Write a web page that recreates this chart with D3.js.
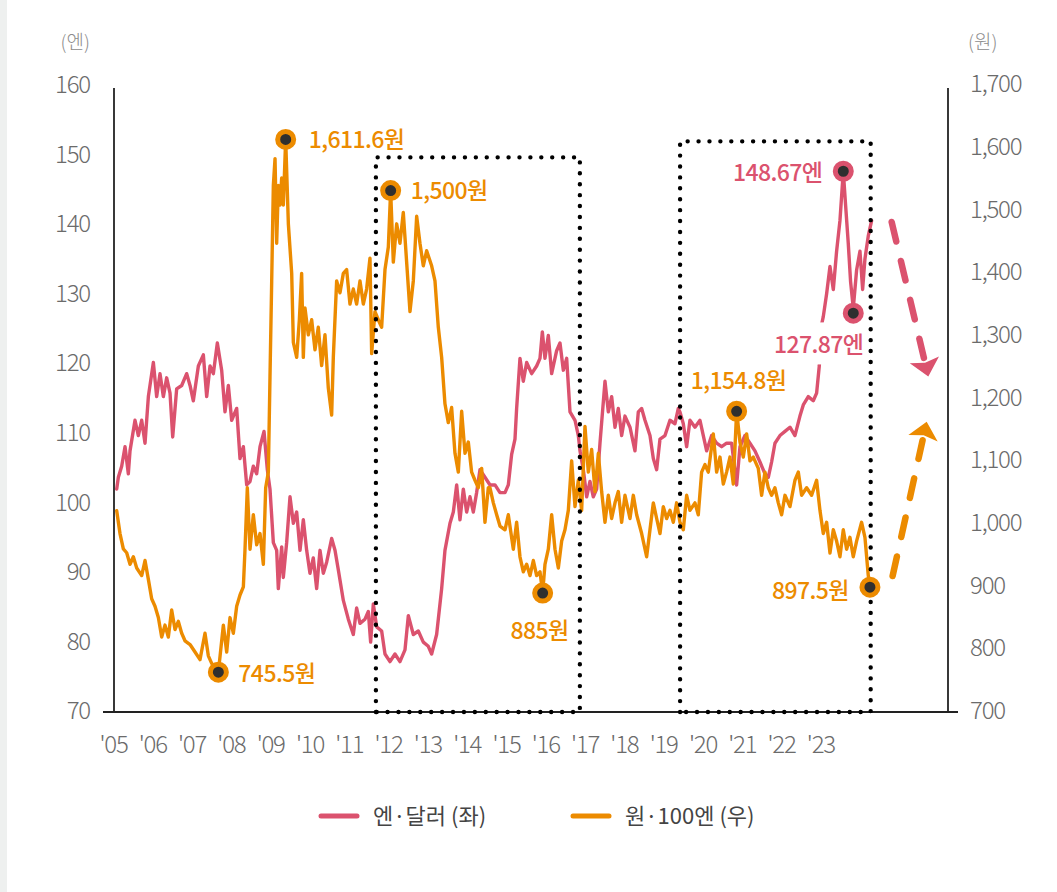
<!DOCTYPE html>
<html>
<head>
<meta charset="utf-8">
<script src="https://cdn.jsdelivr.net/npm/d3@7"></script>
<style>
  html, body { margin: 0; padding: 0; background: #fff; }
  svg { display: block; font-family: "Noto Sans CJK KR", "Noto Sans", sans-serif; }
</style>
</head>
<body>
<svg id="chart" width="1057" height="892"></svg>
<script>
// ---------------- DATA ----------------
const yearTicks = [2005,2006,2007,2008,2009,2010,2011,2012,2013,2014,2015,2016,2017,2018,2019,2020,2021,2022,2023];
const yearLabels = ["'05","'06","'07","'08","'09","'10","'11","'12","'13","'14","'15","'16","'17","'18","'19","'20","'21","'22","'23"];
const leftTicks = [70,80,90,100,110,120,130,140,150,160];
const rightTicks = [700,800,900,1000,1100,1200,1300,1400,1500,1600,1700];

// 엔·달러 (좌): decimal year, yen per dollar
const yenDates = [2005.094,2005.136,2005.221,2005.306,2005.39,2005.433,2005.56,2005.645,2005.73,2005.815,2005.9,2006.027,2006.111,2006.196,2006.281,2006.366,2006.451,2006.519,2006.62,2006.748,2006.875,2006.96,2007.044,2007.172,2007.299,2007.384,2007.469,2007.553,2007.655,2007.765,2007.85,2007.935,2008.02,2008.147,2008.232,2008.317,2008.402,2008.486,2008.571,2008.656,2008.741,2008.843,2008.927,2008.995,2009.08,2009.165,2009.207,2009.292,2009.334,2009.419,2009.504,2009.589,2009.674,2009.759,
2009.843,2009.928,2010.012,2010.097,2010.182,2010.267,2010.352,2010.437,2010.564,2010.649,2010.733,2010.861,2010.988,2011.115,2011.2,2011.285,2011.412,2011.497,2011.556,2011.624,2011.709,2011.836,2011.921,2012.048,2012.175,2012.302,2012.43,2012.515,2012.642,2012.769,2012.896,2013.023,2013.108,2013.235,2013.363,2013.447,2013.575,2013.66,2013.745,2013.829,2013.914,2013.999,2014.084,2014.169,2014.253,2014.338,2014.465,2014.593,
2014.72,2014.847,2014.975,2015.059,2015.144,2015.229,2015.271,2015.356,2015.441,2015.526,2015.653,2015.78,2015.865,2015.925,2015.992,2016.077,2016.162,2016.289,2016.374,2016.459,2016.544,2016.629,2016.756,2016.841,2016.883,2016.968,2017.053,2017.137,2017.222,2017.307,2017.392,2017.519,2017.604,2017.689,2017.774,2017.858,2017.943,2018.028,2018.155,2018.282,2018.367,2018.452,2018.537,2018.664,2018.749,2018.834,2018.919,2019.046,2019.173,2019.3,2019.385,
2019.427,2019.512,2019.597,2019.681,2019.809,2019.936,2020.021,2020.106,2020.233,2020.36,2020.487,2020.614,2020.742,2020.869,2020.954,2021.081,2021.208,2021.335,2021.463,2021.59,2021.675,2021.759,2021.844,2021.971,2022.099,2022.226,2022.353,2022.48,2022.565,2022.692,2022.819,2022.904,2022.972,2023.032,2023.074,2023.159,2023.244,2023.329,2023.413,2023.498,2023.583,2023.642,2023.71,2023.769,2023.837,2023.922,2024.007,2024.075,2024.134,2024.219,2024.304];
const yenValues = [101.9,103.6,105.2,108,104.1,107.4,111.8,109.6,111.8,108.5,115.2,120.1,115.2,118.5,115.2,117.9,115.7,109.4,116.3,116.8,118.5,116.8,114.6,119.6,121.2,115.2,119.6,118.5,122.9,119.0,113,116.8,111.8,113.5,106.3,108,102.5,103,105.2,104.1,108,110.2,104.7,101.9,94.2,93.1,87.6,93.6,89.2,94.2,100.8,97,98.6,93.1,
97.5,93.1,89.8,92,87.6,93.1,89.8,91.4,94.8,93.1,90.3,85.9,83.2,81,84.8,82.6,83.2,84.3,79.9,85.4,82.1,81.5,78.2,77.1,78.2,77.1,78.8,83.7,81,81.5,79.9,79.3,78.2,81,87.6,93.1,97,98.6,102.5,97.5,101.9,98.6,100.8,98.6,101.4,104.7,103.6,102.5,
102.5,101.4,101.4,102.5,106.9,109.1,113.5,120.7,117.4,120.1,118.5,119.6,120.7,124.5,120.7,124,118.5,121.8,122.9,119,120.7,113,111.8,109.6,107.4,104.7,100.8,103,100.8,101.9,108.5,117.4,113,115.2,110.8,113.5,109.6,112.4,110.8,107.4,113,113.5,111.8,109.6,106.3,104.7,109.1,109.6,111.8,111.3,113.5,
113,111.3,108,111.8,110.8,111.8,109.6,107.4,109.6,108.5,108,108.5,108.5,102.5,108,109.6,108.5,107.4,105.8,104.1,103.6,105.8,108.5,109.6,110.2,110.8,109.6,112.4,114,115.2,114.6,115.7,119.6,125.6,126.7,130,133.9,130.6,136.1,140.5,147.6,142.7,137.2,131.7,127.9,133.4,136.1,130.6,135,138.3,140.5];

// 원·100엔 (우): decimal year, won per 100 yen
const wonDates = [2005.094,2005.178,2005.263,2005.348,2005.433,2005.518,2005.603,2005.73,2005.815,2005.9,2005.984,2006.069,2006.154,2006.239,2006.323,2006.408,2006.493,2006.578,2006.663,2006.748,2006.832,2006.96,2007.087,2007.214,2007.341,2007.426,2007.511,2007.596,2007.681,2007.808,2007.893,2007.977,2008.062,2008.147,2008.232,2008.317,2008.359,2008.418,2008.486,2008.571,2008.656,2008.741,2008.826,2008.885,2008.953,2008.995,2009.038,2009.08,2009.123,2009.165,2009.207,2009.25,2009.292,2009.334,2009.394,2009.462,2009.547,2009.589,2009.674,2009.742,
2009.8,2009.843,2009.885,2009.97,2010.055,2010.14,2010.224,2010.309,2010.394,2010.479,2010.564,2010.606,2010.691,2010.776,2010.861,2010.945,2011.03,2011.115,2011.2,2011.285,2011.37,2011.454,2011.539,2011.582,2011.666,2011.751,2011.836,2011.921,2012.006,2012.065,2012.133,2012.218,2012.302,2012.387,2012.472,2012.557,2012.642,2012.727,2012.811,2012.896,2012.981,2013.108,2013.193,2013.278,2013.363,2013.447,2013.532,2013.617,2013.702,2013.787,2013.872,2013.957,2014.041,2014.126,2014.211,2014.296,2014.381,2014.465,2014.55,
2014.593,2014.678,2014.763,2014.847,2014.975,2015.059,2015.187,2015.271,2015.356,2015.441,2015.526,2015.611,2015.696,2015.78,2015.865,2015.933,2015.992,2016.077,2016.162,2016.247,2016.332,2016.417,2016.501,2016.586,2016.671,2016.756,2016.841,2016.925,2017.01,2017.095,2017.18,2017.265,2017.35,2017.434,2017.519,2017.604,2017.689,2017.774,2017.858,2017.943,2018.028,2018.155,2018.24,2018.325,2018.452,2018.579,2018.664,2018.749,2018.834,2018.919,2019.003,2019.088,2019.173,2019.258,2019.342,2019.427,
2019.512,2019.597,2019.681,2019.809,2019.893,2019.978,2020.063,2020.148,2020.275,2020.36,2020.445,2020.53,2020.614,2020.699,2020.784,2020.869,2020.954,2021.039,2021.124,2021.208,2021.293,2021.42,2021.505,2021.59,2021.675,2021.759,2021.844,2021.929,2022.014,2022.099,2022.226,2022.353,2022.438,2022.523,2022.65,2022.777,2022.904,2022.989,2023.074,2023.159,2023.244,2023.329,2023.413,2023.498,2023.583,2023.668,2023.752,2023.837,2023.922,2024.049,2024.134,2024.219,2024.261];
const wonValues = [1019.5,983,958.5,952.4,934,946,928,916,940,910,879,867,849,818,837,818,861,830,843,824,812,806,794,782,824,788,776,770,762,837,794,849,824,867,885,898,958,1056,958,1013,965,983,934,1056,1081,1233,1385,1538,1581,1446,1538,1507,1550,1507,1611.6,1477,1398,1288,1264,1324,
1398,1264,1343,1300,1324,1276,1312,1251,1300,1215,1172,1264,1386,1367,1398,1404,1349,1373,1349,1386,1349,1373,1422,1270,1337,1324,1312,1404,1440,1530,1416,1477,1446,1495,1416,1337,1386,1489,1446,1410,1434,1410,1386,1312,1264,1190,1160,1184,1111,1081,1178,1111,1129,1081,1068,1056,1087,1001,1056,
1056,1032,1013,995,989,1013,958,1001,946,922,934,916,940,916,922,888,934,958,1013,958,928,971,989,1020,1099,1026,1068,1020,1154,1081,1117,1050,1111,1050,1001,1044,1007,1032,1050,1001,1044,1007,1044,1013,983,946,989,1032,1007,983,1026,1007,1020,1001,1032,1001,
989,1044,1020,1032,1013,1081,1093,1081,1142,1081,1105,1062,1081,1105,1062,1178,1129,1105,1142,1099,1105,1087,1044,1081,1056,1044,1056,1032,1013,1044,1026,1068,1081,1044,1056,1044,1068,1020,983,1001,952,989,971,946,989,958,977,946,971,1001,977,916,897.5];

// annotations: axis, date, value, label
const noteAxis   = ["won","won","won","won","won","won","yen","yen"];
const noteDates  = [2009.394,2007.681,2012.065,2015.933,2020.869,2024.261,2023.583,2023.837];
const noteValues = [1611.6,762,1530,888,1178,897.5,147.6,127.2];
const noteLabels = ["1,611.6원","745.5원","1,500원","885원","1,154.8원","897.5원","148.67엔","127.87엔"];
const noteKnockout = [false,false,false,false,false,false,false,true];

// highlighted periods (dotted boxes): start, end, top (left-axis units)
const boxStart = [2011.69, 2019.43];
const boxEnd   = [2016.88, 2024.28];
const boxTop   = [149.6, 151.9];

// forecast arrows (dashed): from [date, yen-axis value] to tip
const arrowFrom = [[2024.814, 140.3],[2024.838, 89.4]];
const arrowTo   = [[2025.746, 118.1],[2025.705, 111.6]];

// ---------------- CHART ----------------
const PINK = "#db526e", ORANGE = "#ec8b00", DARK = "#2f2f2f";
const svg = d3.select("#chart");
const W = 1057, H = 892;
const plotLeft = 114, plotRight = 948, plotTop = 85, plotBottom = 711;

svg.append("rect").attr("x",0).attr("y",0).attr("width",7).attr("height",H).attr("fill","#eef0ef");

const x = d3.scaleLinear().domain([2005, 2026.25]).range([113, 948.1]);
const yL = d3.scaleLinear().domain([70,160]).range([plotBottom, plotTop]);
const yR = d3.scaleLinear().domain([700,1700]).range([plotBottom, 84]);

// axes (labels)
const axL = svg.append("g").attr("transform",`translate(${plotLeft},0)`)
  .call(d3.axisLeft(yL).tickValues(leftTicks).tickSize(0).tickPadding(24));
const axR = svg.append("g").attr("transform",`translate(${plotRight},0)`)
  .call(d3.axisRight(yR).tickValues(rightTicks).tickSize(0).tickPadding(22).tickFormat(d3.format(",")));
const axB = svg.append("g").attr("transform",`translate(0,${plotBottom})`)
  .call(d3.axisBottom(x).tickValues(yearTicks).tickSize(0).tickFormat((d,i)=>yearLabels[i]));
[axL,axR,axB].forEach(g=>{
  g.select(".domain").remove();
  g.selectAll("text").attr("font-family","'Noto Sans CJK KR', sans-serif")
    .attr("font-size",24).attr("font-weight",300).attr("fill","#6b6b6b").attr("letter-spacing","-1.2px");
});
axB.selectAll("text").attr("y",34).attr("dy","0.35em");

// axis lines
const axisColor = "#222";
svg.append("line").attr("x1",plotLeft).attr("x2",plotLeft).attr("y1",88).attr("y2",712).attr("stroke",axisColor).attr("stroke-width",1.8);
svg.append("line").attr("x1",plotRight).attr("x2",plotRight).attr("y1",88).attr("y2",712).attr("stroke",axisColor).attr("stroke-width",1.8);
svg.append("line").attr("x1",103).attr("x2",958).attr("y1",712).attr("y2",712).attr("stroke",axisColor).attr("stroke-width",1.8);

// unit labels
svg.append("text").attr("x",90).attr("y",42).attr("dy","0.35em").attr("text-anchor","end")
  .attr("font-size",19).attr("font-weight",300).attr("fill","#8c8c8c").text("(엔)");
svg.append("text").attr("x",968).attr("y",42).attr("dy","0.35em").attr("text-anchor","start")
  .attr("font-size",19).attr("font-weight",300).attr("fill","#8c8c8c").text("(원)");

// lines
const yenData = yenDates.map((d,i)=>({t:d, v:yenValues[i]}));
const wonData = wonDates.map((d,i)=>({t:d, v:wonValues[i]}));
svg.append("path").datum(yenData)
  .attr("d", d3.line().x(d=>x(d.t)).y(d=>yL(d.v)))
  .attr("fill","none").attr("stroke",PINK).attr("stroke-width",3.4).attr("stroke-linejoin","round").attr("stroke-linecap","round");
svg.append("path").datum(wonData)
  .attr("d", d3.line().x(d=>x(d.t)).y(d=>yR(d.v)))
  .attr("fill","none").attr("stroke",ORANGE).attr("stroke-width",3.4).attr("stroke-linejoin","round").attr("stroke-linecap","round");

// dotted boxes
boxStart.forEach((s,i)=>{
  const x0 = x(s), x1 = x(boxEnd[i]), y0 = yL(boxTop[i]), y1 = 712;
  svg.append("path").attr("d",`M${x0},${y1}V${y0}H${x1}V${y1}H${x0}`)
    .attr("fill","none").attr("stroke","#000").attr("stroke-width",4.4)
    .attr("stroke-linecap","round").attr("stroke-dasharray","0.01 10.9");
});

// arrows
const arrowColors = [PINK, ORANGE];
arrowFrom.forEach((f,i)=>{
  const p0 = [x(f[0]), yL(f[1])], p1 = [x(arrowTo[i][0]), yL(arrowTo[i][1])];
  const dx = p1[0]-p0[0], dy = p1[1]-p0[1], L = Math.hypot(dx,dy);
  const ux = dx/L, uy = dy/L, nx = -uy, ny = ux;
  const headLen = 17, headHalf = 15;
  const bx = p1[0]-ux*headLen, by = p1[1]-uy*headLen;
  const shaftEnd = [p1[0]-ux*(headLen+2), p1[1]-uy*(headLen+2)];
  svg.append("line").attr("x1",p0[0]).attr("y1",p0[1]).attr("x2",shaftEnd[0]).attr("y2",shaftEnd[1])
    .attr("stroke",arrowColors[i]).attr("stroke-width",6.5).attr("stroke-linecap","round")
    .attr("stroke-dasharray","20 20");
  svg.append("path").attr("d",`M${p1[0]},${p1[1]}L${bx+nx*headHalf},${by+ny*headHalf}L${bx+ux*3},${by+uy*3}L${bx-nx*headHalf},${by-ny*headHalf}Z`)
    .attr("fill",arrowColors[i]);
});

// annotation markers and labels
const labelPos = [
  {dx:23, dy:0, anchor:"start"},
  {dx:20, dy:2, anchor:"start"},
  {dx:20, dy:0, anchor:"start"},
  {dx:-3, dy:38, anchor:"middle"},
  {dx:2, dy:-31, anchor:"middle"},
  {dx:-21, dy:4, anchor:"end"},
  {dx:-21, dy:1, anchor:"end"},
  {dx:10, dy:32, anchor:"end"}
];
const markerLayer = svg.append("g");
noteDates.forEach((t,i)=>{
  const isWon = noteAxis[i]==="won";
  const cx = x(t), cy = isWon ? yR(noteValues[i]) : yL(noteValues[i]);
  const col = isWon ? ORANGE : PINK;
  const g = markerLayer.append("g");
  const bg = g.append("rect").attr("fill","#fff");
  const txt = g.append("text").attr("x",cx+labelPos[i].dx).attr("y",cy+labelPos[i].dy).attr("dy","0.36em")
    .attr("text-anchor",labelPos[i].anchor).attr("font-size",23).attr("font-weight",500)
    .attr("letter-spacing","-0.6px").attr("fill",col).text(noteLabels[i]);
  if (noteKnockout[i]) {
    const b = txt.node().getBBox();
    bg.attr("x",b.x-4).attr("y",b.y-4).attr("width",b.width+8).attr("height",b.height+8);
  } else {
    bg.remove();
  }
  markerLayer.append("circle").attr("cx",cx).attr("cy",cy).attr("r",8).attr("fill",DARK)
    .attr("stroke",col).attr("stroke-width",5);
});

// legend
const legendItems = [
  {label:"엔·달러 (좌)", color:PINK, x:321},
  {label:"원·100엔 (우)", color:ORANGE, x:573}
];
legendItems.forEach(it=>{
  svg.append("line").attr("x1",it.x).attr("x2",it.x+36).attr("y1",816).attr("y2",816)
    .attr("stroke",it.color).attr("stroke-width",5).attr("stroke-linecap","round");
  svg.append("text").attr("x",it.x+52).attr("y",816).attr("dy","0.36em")
    .attr("font-size",22).attr("font-weight",400).attr("fill","#444").text(it.label);
});
</script>
</body>
</html>
